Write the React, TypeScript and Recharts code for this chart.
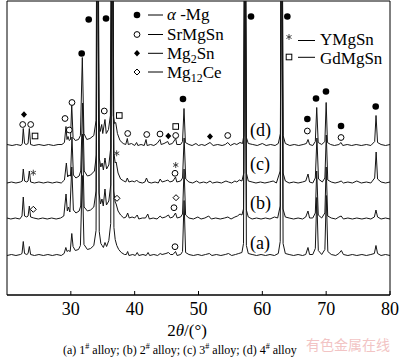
import { Line, LineChart, ReferenceArea, ReferenceDot, XAxis, YAxis } from "recharts";

type Point = [number, number];
type Phase = "Mg" | "SrMgSn" | "Mg2Sn" | "Mg12Ce" | "YMgSn" | "GdMgSn";
type Mark = [number, number, Phase];

const FONT = '"Liberation Serif", "Times New Roman", Times, serif';

const xTicks = [20, 30, 40, 50, 60, 70, 80];
const curveNames = ["a", "b", "c", "d"];
// vertical shift of each pattern (stacked plot)
const curveOffsets = [39.5, 76, 112, 149.5];

// [2θ, intensity above own baseline]
const patternA: Point[] = [
  [20, 0], [20.7, 1], [21.4, 0], [22.1, 1], [22.35, 2], [22.55, 14], [22.75, 2], [23.1, 1], [23.3, 2], [23.5, 9],
  [23.7, 1], [24.3, 0], [25, 1], [25.7, 0], [26.4, 1], [27.1, 0], [27.8, 1], [28.5, 0], [28.95, 2], [29.22, 8],
  [29.4, 4], [29.6, 5], [29.9, 4], [30.15, 22], [30.35, 9], [30.7, 5], [31.2, 6], [31.5, 10], [31.8, 80], [32.06, 11],
  [32.6, 6], [33.1, 7], [33.6, 10], [33.95, 25], [34.2, 400], [34.45, 24], [34.7, 12], [34.9, 10], [35.1, 8], [35.35, 13],
  [35.6, 9], [35.95, 15], [36.25, 32], [36.5, 400], [36.75, 28], [36.95, 16], [37.2, 10], [37.5, 6], [37.9, 3], [38.4, 1],
  [38.7, 1], [38.9, 4], [39.1, 0], [39.7, 1], [40.1, 0], [40.4, 3], [40.65, 0], [41.3, 1], [41.8, 0], [42.1, 3],
  [42.35, 0], [43, 1], [43.6, 0], [44, 2], [44.3, 1], [44.9, 2], [45.3, 3], [45.6, 1], [46, 1], [46.4, 4],
  [46.65, 0], [47.2, 1], [47.5, 4], [47.74, 55], [47.98, 3], [48.5, 1], [49.2, 0], [49.9, 1], [50.5, 0], [51.1, 1],
  [51.7, 2], [52.1, 0], [52.8, 1], [53.5, 0], [54.2, 1], [54.7, 2], [55.2, 0], [55.8, 1], [56.3, 2], [56.8, 3],
  [57.05, 12], [57.27, 400], [57.5, 10], [57.8, 2], [58.4, 1], [59.1, 0], [59.8, 1], [60.5, 0], [61.2, 1], [61.9, 0],
  [62.5, 2], [62.8, 14], [63.03, 400], [63.25, 12], [63.6, 2], [64.2, 1], [64.9, 0], [65.6, 1], [66.3, 0], [66.8, 1],
  [67.15, 8], [67.4, 1], [67.9, 1], [68.3, 7], [68.53, 58], [68.77, 5], [69.3, 1], [69.8, 6], [70.02, 60], [70.26, 4],
  [70.8, 1], [71.5, 0], [72, 2], [72.38, 5], [72.7, 1], [73.4, 0], [74.1, 1], [74.8, 0], [75.6, 1], [76.3, 0],
  [77, 1], [77.55, 2], [77.8, 10], [78.05, 2], [78.6, 0], [79.3, 1], [80, 0],
];

const patternB: Point[] = [
  [20, 1], [20.6, 0], [21.3, 1], [22, 0], [22.35, 3], [22.55, 22], [22.75, 3], [23.1, 2], [23.3, 3], [23.5, 13],
  [23.7, 2], [24.2, 1], [24.9, 0], [25.6, 1], [26.3, 0], [27, 1], [27.7, 0], [28.4, 1], [28.9, 3], [29.25, 25],
  [29.45, 8], [29.62, 12], [29.85, 7], [30.15, 52], [30.4, 9], [30.8, 6], [31.3, 8], [31.55, 13], [31.82, 85], [32.08, 12],
  [32.6, 8], [33.1, 9], [33.6, 12], [33.95, 28], [34.18, 400], [34.42, 26], [34.65, 15], [34.88, 20], [35.08, 13], [35.35, 30],
  [35.58, 14], [35.95, 18], [36.25, 34], [36.48, 400], [36.72, 28], [36.95, 17], [37.1, 15], [37.4, 8], [37.8, 4], [38.3, 1],
  [38.65, 2], [38.9, 6], [39.15, 1], [39.6, 2], [40, 1], [40.4, 4], [40.65, 0], [41.2, 1], [41.7, 1], [42.05, 5],
  [42.3, 0], [42.9, 1], [43.5, 0], [44, 3], [44.3, 1], [44.8, 2], [45.3, 4], [45.55, 1], [46, 2], [46.4, 6],
  [46.65, 1], [47.2, 2], [47.5, 5], [47.74, 50], [47.98, 4], [48.5, 1], [49.2, 0], [49.9, 2], [50.4, 0], [51, 1],
  [51.6, 3], [52, 0], [52.7, 1], [53.4, 0], [54.1, 1], [54.6, 2], [55.1, 0], [55.7, 2], [56.1, 3], [56.5, 5],
  [56.8, 4], [57.05, 10], [57.28, 400], [57.5, 9], [57.8, 2], [58.4, 0], [59.1, 1], [59.8, 0], [60.5, 1], [61.2, 0],
  [61.9, 2], [62.4, 1], [62.8, 13], [63.02, 400], [63.24, 10], [63.6, 2], [64.2, 1], [64.9, 0], [65.6, 1], [66.3, 0],
  [66.8, 2], [67.15, 8], [67.4, 1], [67.9, 1], [68.3, 6], [68.52, 48], [68.76, 4], [69.3, 1], [69.8, 6], [70, 52],
  [70.24, 3], [70.8, 1], [71.5, 0], [72, 2], [72.35, 3], [72.7, 0], [73.4, 1], [74.1, 0], [74.8, 1], [75.6, 0],
  [76.3, 1], [77, 0], [77.55, 2], [77.8, 9], [78.05, 2], [78.6, 0], [79.3, 1], [80, 0],
];

const patternC: Point[] = [
  [20, 0], [20.7, 1], [21.4, 0], [22.1, 1], [22.4, 2], [22.55, 14], [22.75, 2], [23.1, 1], [23.3, 2], [23.5, 12],
  [23.7, 1], [24.3, 0], [25, 1], [25.7, 0], [26.4, 1], [27.1, 0], [27.8, 1], [28.5, 0], [29, 3], [29.3, 20],
  [29.5, 6], [29.7, 8], [29.95, 7], [30.18, 46], [30.4, 8], [30.8, 5], [31.3, 7], [31.55, 12], [31.85, 80], [32.1, 12],
  [32.6, 7], [33.1, 8], [33.7, 12], [34, 28], [34.2, 400], [34.45, 25], [34.7, 16], [34.9, 20], [35.1, 13], [35.35, 25],
  [35.6, 14], [35.95, 18], [36.25, 35], [36.5, 400], [36.75, 30], [36.95, 20], [37.1, 21], [37.4, 10], [37.8, 4], [38.3, 2],
  [38.6, 1], [38.85, 5], [39.1, 1], [39.6, 2], [40, 1], [40.3, 3], [40.6, 1], [41.2, 0], [41.6, 1], [41.85, 5],
  [42.1, 1], [42.6, 0], [43.2, 1], [43.7, 0], [44, 4], [44.3, 1], [44.8, 2], [45.2, 3], [45.5, 1], [46, 2],
  [46.4, 6], [46.6, 1], [47.2, 2], [47.5, 5], [47.75, 45], [48, 4], [48.5, 1], [49.1, 0], [49.7, 2], [50.2, 0],
  [50.8, 1], [51.3, 0], [51.8, 2], [52.2, 0], [52.9, 1], [53.6, 0], [54.3, 2], [54.7, 1], [55.2, 0], [55.7, 2],
  [56, 1], [56.4, 3], [56.8, 2], [57.1, 10], [57.3, 400], [57.5, 10], [57.8, 2], [58.4, 1], [59, 0], [59.7, 1],
  [60.4, 0], [61.1, 1], [61.7, 2], [62.2, 0], [62.8, 12], [63.05, 400], [63.25, 10], [63.6, 2], [64.2, 0], [64.9, 1],
  [65.6, 0], [66.3, 1], [66.8, 2], [67.16, 9], [67.4, 1], [67.9, 0], [68.3, 5], [68.55, 45], [68.8, 4], [69.4, 1],
  [69.8, 5], [70.02, 48], [70.25, 3], [70.8, 1], [71.4, 0], [72, 1], [72.35, 2], [72.7, 0], [73.4, 1], [74.1, 0],
  [74.8, 2], [75.5, 0], [76.3, 1], [77, 0], [77.6, 5], [77.83, 31], [78.05, 4], [78.6, 1], [79.3, 0], [80, 1],
];

const patternD: Point[] = [
  [20, 1], [20.8, 0], [21.5, 1], [22.2, 0], [22.4, 2], [22.55, 17], [22.75, 2], [23, 1], [23.3, 2], [23.5, 17],
  [23.7, 1], [24.2, 0], [25, 1], [25.8, 0], [26.5, 1], [27.3, 0], [28, 1], [28.6, 1], [29, 3], [29.24, 19],
  [29.4, 6], [29.56, 9], [29.75, 5], [29.95, 6], [30.14, 41], [30.35, 8], [30.7, 5], [31.2, 6], [31.5, 10], [31.8, 88],
  [32.05, 12], [32.5, 6], [33, 7], [33.6, 10], [33.95, 25], [34.15, 400], [34.4, 25], [34.6, 14], [34.84, 21], [35, 12],
  [35.35, 26], [35.55, 12], [35.9, 16], [36.2, 30], [36.42, 400], [36.65, 30], [36.85, 22], [37.03, 23], [37.3, 12], [37.7, 5],
  [38.2, 2], [38.6, 1], [38.85, 7], [39, 1], [39.5, 2], [40, 0], [40.3, 3], [40.5, 0], [41, 1], [41.5, 0],
  [41.78, 6], [41.95, 0], [42.5, 1], [43, 0], [43.5, 2], [43.97, 6], [44.15, 1], [44.6, 2], [45.18, 4], [45.4, 1],
  [45.9, 2], [46.43, 7], [46.6, 1], [47.2, 1], [47.5, 4], [47.73, 37], [47.95, 3], [48.5, 1], [49, 0], [49.6, 2],
  [50, 0], [50.5, 1], [51, 0], [51.8, 3], [52.3, 0], [53, 1], [53.7, 0], [54.2, 1], [54.58, 3], [55, 0],
  [55.6, 2], [56, 1], [56.5, 3], [56.9, 2], [57.1, 10], [57.29, 400], [57.5, 8], [57.8, 2], [58.5, 1], [59.2, 0],
  [60, 2], [60.6, 0], [61.3, 1], [62, 0], [62.5, 2], [62.85, 12], [63.04, 400], [63.25, 10], [63.6, 2], [64.3, 0],
  [65, 1], [65.7, 0], [66.4, 1], [66.9, 2], [67.16, 6], [67.4, 1], [67.9, 0], [68.3, 4], [68.52, 38], [68.75, 3],
  [69.3, 1], [69.8, 4], [70, 43], [70.2, 3], [70.7, 1], [71.3, 0], [72, 1], [72.33, 3], [72.6, 0], [73.3, 1],
  [74, 0], [74.7, 1], [75.5, 0], [76.3, 1], [77, 0], [77.6, 4], [77.81, 30], [78.05, 3], [78.6, 1], [79.3, 0],
  [80, 1],
];

// phase marks: [2θ, height above own baseline, phase]
const marksA: Mark[] = [[46.32, 8.8, "SrMgSn"]];
const marksB: Mark[] = [
  [24.12, 9.7, "Mg12Ce"], [37.23, 20.7, "Mg12Ce"], [46.16, 11.3, "SrMgSn"], [46.48, 21.3, "Mg12Ce"],
];
const marksC: Mark[] = [
  [24.12, 10.3, "YMgSn"], [37.18, 29.7, "YMgSn"], [46.43, 18, "YMgSn"], [46.32, 9.7, "SrMgSn"],
];
const marksD: Mark[] = [
  [22.66, 31, "Mg2Sn"], [22.46, 21, "SrMgSn"], [23.71, 21, "SrMgSn"], [24.39, 9.5, "GdMgSn"],
  [29.09, 27, "SrMgSn"], [29.76, 15.5, "SrMgSn"], [30.18, 43, "SrMgSn"], [31.7, 92, "Mg"],
  [32.8, 126, "Mg"], [35.24, 34.5, "SrMgSn"], [35.51, 127, "Mg"], [37.59, 30, "GdMgSn"],
  [38.91, 12, "SrMgSn"], [41.89, 11, "SrMgSn"], [43.97, 11.5, "SrMgSn"], [45.27, 9.5, "Mg2Sn"],
  [46.43, 10, "SrMgSn"], [46.43, 19, "GdMgSn"], [47.57, 46.5, "Mg"], [51.8, 9, "Mg2Sn"],
  [54.58, 10, "SrMgSn"], [58.23, 129, "Mg"], [63.92, 129, "Mg"], [67.05, 26.5, "Mg"],
  [67.05, 14.5, "SrMgSn"], [68.41, 47, "Mg"], [69.97, 54, "Mg"], [72.33, 19.5, "Mg"],
  [72.33, 8, "SrMgSn"], [77.76, 39, "Mg"],
];

const patterns = [patternA, patternB, patternC, patternD];
const marks = [marksA, marksB, marksC, marksD];

function PhaseMark({ phase, cx, cy }: { phase: Phase; cx: number; cy: number }) {
  switch (phase) {
    case "Mg":
      return <circle cx={cx} cy={cy} r={3.3} fill="#000" />;
    case "SrMgSn":
      return <circle cx={cx} cy={cy} r={2.9} fill="#fff" stroke="#000" strokeWidth={1} />;
    case "Mg2Sn":
      return <path d={`M${cx},${cy - 3.2}L${cx + 3},${cy}L${cx},${cy + 3.2}L${cx - 3},${cy}Z`} fill="#000" />;
    case "Mg12Ce":
      return (
        <path
          d={`M${cx},${cy - 3}L${cx + 3},${cy}L${cx},${cy + 3}L${cx - 3},${cy}Z`}
          fill="#fff"
          stroke="#000"
          strokeWidth={1}
        />
      );
    case "YMgSn":
      return (
        <g stroke="#333" strokeWidth={0.9}>
          <line x1={cx} y1={cy - 3} x2={cx} y2={cy + 3} />
          <line x1={cx - 2.6} y1={cy - 1.5} x2={cx + 2.6} y2={cy + 1.5} />
          <line x1={cx - 2.6} y1={cy + 1.5} x2={cx + 2.6} y2={cy - 1.5} />
        </g>
      );
    default:
      return <rect x={cx - 2.8} y={cy - 2.8} width={5.6} height={5.6} fill="#fff" stroke="#000" strokeWidth={1} />;
  }
}

function AxisTick({ x, y, payload }: any) {
  return (
    <g>
      <line x1={x} x2={x} y1={y} y2={y - 4} stroke="#000" />
      <text x={x} y={y + 20} textAnchor="middle" fill="#000" style={{ fontFamily: FONT, fontSize: 18 }}>
        {payload.value}
      </text>
    </g>
  );
}

export default function App() {
  const curves = patterns.map((pts, i) =>
    pts.map(([t, v]) => ({ t, [curveNames[i]]: v + curveOffsets[i] })),
  );

  return (
    <div style={{ position: "absolute", left: 0, top: 0, width: 400, height: 364, background: "#fff" }}>
      <LineChart width={400} height={320} margin={{ top: 1, right: 10, bottom: 0, left: 7 }}>
        <XAxis
          dataKey="t"
          type="number"
          domain={[20, 80]}
          ticks={xTicks}
          allowDataOverflow
          height={25}
          tickSize={0}
          tickMargin={0}
          tickLine={false}
          axisLine={{ stroke: "#000" }}
          tick={<AxisTick />}
        />
        <YAxis type="number" domain={[0, 294]} allowDataOverflow hide />
        <ReferenceArea x1={20} x2={80} y1={0} y2={294} fill="none" stroke="#000" strokeWidth={1} />
        {curves.map((data, i) => (
          <Line
            key={curveNames[i]}
            data={data}
            dataKey={curveNames[i]}
            type="linear"
            stroke="#151515"
            strokeWidth={1}
            dot={false}
            activeDot={false}
            isAnimationActive={false}
          />
        ))}
        {marks.map((list, i) =>
          list.map(([t, h, phase], j) => (
            <ReferenceDot
              key={`${i}-${j}`}
              x={t}
              y={h + curveOffsets[i]}
              r={3}
              ifOverflow="visible"
              shape={(p: any) => <PhaseMark phase={phase} cx={p.cx} cy={p.cy} />}
            />
          )),
        )}
      </LineChart>

      <svg
        width={400}
        height={364}
        style={{ position: "absolute", left: 0, top: 0, pointerEvents: "none", fontFamily: FONT }}
      >
        {/* legend */}
        <g style={{ fontSize: 17 }} fill="#000">
          <PhaseMark phase="Mg" cx={137} cy={15} />
          <line x1={148} x2={163} y1={15} y2={15} stroke="#000" />
          <text x={167} y={20}>
            <tspan fontStyle="italic">α</tspan> -Mg
          </text>
          <PhaseMark phase="SrMgSn" cx={137} cy={34.5} />
          <line x1={148} x2={163} y1={34.5} y2={34.5} stroke="#000" />
          <text x={167} y={39.5}>SrMgSn</text>
          <PhaseMark phase="Mg2Sn" cx={137} cy={53.3} />
          <line x1={148} x2={163} y1={53.3} y2={53.3} stroke="#000" />
          <text x={167} y={58.5}>
            Mg<tspan style={{ fontSize: 12 }} dy={4}>2</tspan>
            <tspan dy={-4}>Sn</tspan>
          </text>
          <PhaseMark phase="Mg12Ce" cx={137} cy={72} />
          <line x1={148} x2={163} y1={72} y2={72} stroke="#000" />
          <text x={167} y={78}>
            Mg<tspan style={{ fontSize: 12 }} dy={4}>12</tspan>
            <tspan dy={-4}>Ce</tspan>
          </text>
          <PhaseMark phase="YMgSn" cx={289} cy={37} />
          <line x1={298} x2={315} y1={40.5} y2={40.5} stroke="#000" />
          <text x={320} y={44.5}>YMgSn</text>
          <PhaseMark phase="GdMgSn" cx={289} cy={57} />
          <line x1={298} x2={315} y1={57.3} y2={57.3} stroke="#000" />
          <text x={320} y={63.5}>GdMgSn</text>
        </g>

        {/* pattern labels */}
        <g style={{ fontSize: 18 }} fill="#000">
          <text x={250} y={136}>(d)</text>
          <text x={250} y={170}>(c)</text>
          <text x={250} y={208.5}>(b)</text>
          <text x={250} y={249}>(a)</text>
        </g>

        <text x={187} y={336} textAnchor="middle" style={{ fontSize: 17 }} fill="#000">
          2<tspan fontStyle="italic">θ</tspan>/(°)
        </text>

        <text x={306} y={350} style={{ fontSize: 14, fontFamily: '"Noto Sans CJK SC", sans-serif' }} fill="#f2c4c4">
          有色金属在线
        </text>
        <text x={63} y={354} style={{ fontSize: 12 }} fill="#000">
          (a) 1<tspan style={{ fontSize: 8 }} dy={-5}>#</tspan>
          <tspan dy={5}> alloy; (b) 2</tspan>
          <tspan style={{ fontSize: 8 }} dy={-5}>#</tspan>
          <tspan dy={5}> alloy; (c) 3</tspan>
          <tspan style={{ fontSize: 8 }} dy={-5}>#</tspan>
          <tspan dy={5}> alloy; (d) 4</tspan>
          <tspan style={{ fontSize: 8 }} dy={-5}>#</tspan>
          <tspan dy={5}> alloy</tspan>
        </text>
      </svg>
    </div>
  );
}
